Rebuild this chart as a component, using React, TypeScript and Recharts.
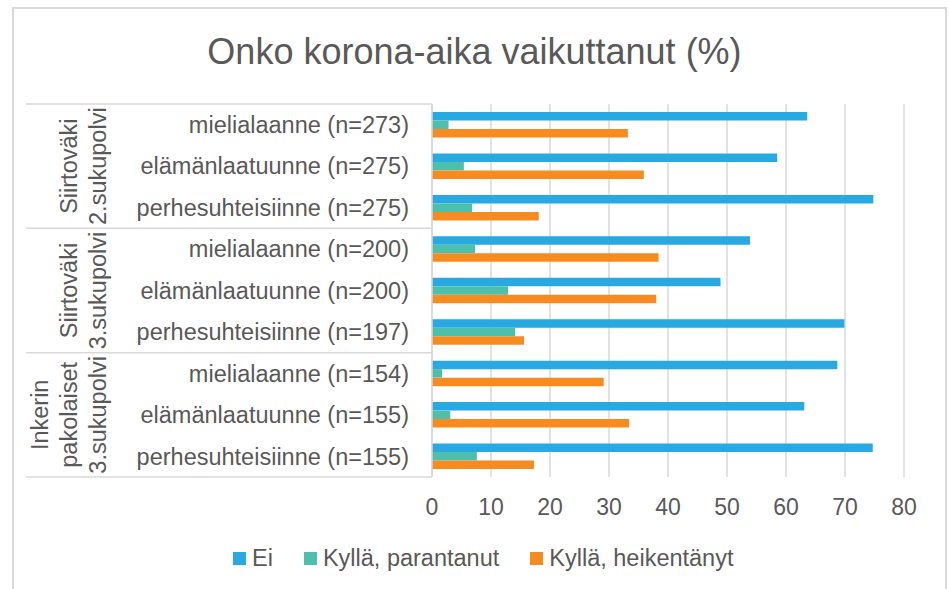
import React from 'react';
import { BarChart, Bar, XAxis, YAxis, CartesianGrid, Legend } from 'recharts';

const categories = [
  'mielialaanne (n=273)',
  'elämänlaatuunne (n=275)',
  'perhesuhteisiinne (n=275)',
  'mielialaanne (n=200)',
  'elämänlaatuunne (n=200)',
  'perhesuhteisiinne (n=197)',
  'mielialaanne (n=154)',
  'elämänlaatuunne (n=155)',
  'perhesuhteisiinne (n=155)',
];

const groups = [
  ['Siirtoväki', '2.sukupolvi'],
  ['Siirtoväki', '3.sukupolvi'],
  ['Inkerin', 'pakolaiset', '3.sukupolvi'],
];

const ei = [63.6, 58.5, 74.8, 53.9, 48.9, 69.9, 68.7, 63.1, 74.7];
const parantanut = [2.8, 5.4, 6.8, 7.3, 12.9, 14.1, 1.7, 3.1, 7.6];
const heikentanyt = [33.2, 35.9, 18.1, 38.4, 38.0, 15.6, 29.1, 33.4, 17.3];

const xTicks = [0, 10, 20, 30, 40, 50, 60, 70, 80];

const series = [
  { key: 'ei', name: 'Ei', color: '#29a9e1' },
  { key: 'parantanut', name: 'Kyllä, parantanut', color: '#4dc0ac' },
  { key: 'heikentanyt', name: 'Kyllä, heikentänyt', color: '#f78b1f' },
];

const data = categories.map((name, i) => ({
  name,
  ei: ei[i],
  parantanut: parantanut[i],
  heikentanyt: heikentanyt[i],
}));

const FONT = '"Liberation Sans", Arial, sans-serif';
const TEXT = '#595959';
const LINE = '#d9d9d9';

const W = 949;
const H = 589;
const PLOT_TOP = 104;
const PLOT_BOTTOM = 477;
const PLOT_LEFT = 432;
const X_AXIS_H = 30;
const BAND = (PLOT_BOTTOM - PLOT_TOP) / categories.length;

const CategoryTick = (props: any) => {
  const { y, payload, index } = props;
  const g = Math.floor(index / 3);
  const pos = index % 3;
  const lines = groups[g];
  return (
    <g>
      <text x={409} y={y} dy="0.35em" textAnchor="end" fill={TEXT} fontSize={23.5} fontFamily={FONT}>
        {payload.value}
      </text>
      {pos === 0 && (
        <line x1={26} x2={PLOT_LEFT} y1={y - BAND / 2} y2={y - BAND / 2} stroke={LINE} strokeWidth={1.5} />
      )}
      {index === categories.length - 1 && (
        <line x1={26} x2={PLOT_LEFT} y1={y + BAND / 2} y2={y + BAND / 2} stroke={LINE} strokeWidth={1.5} />
      )}
      {pos === 1 &&
        lines.map((t, j) => {
          const lx = 98 - (lines.length - 1 - j) * 29;
          return (
            <text
              key={j}
              x={lx}
              y={y}
              dy="0.35em"
              textAnchor="middle"
              transform={`rotate(-90, ${lx}, ${y})`}
              fill={TEXT}
              fontSize={23.5}
              fontFamily={FONT}
            >
              {t}
            </text>
          );
        })}
    </g>
  );
};

const LegendContent = () => (
  <div style={{ display: 'flex', alignItems: 'center', paddingLeft: 233, height: 28, fontFamily: FONT, fontSize: 23.5, color: TEXT }}>
    {series.map((s) => (
      <div key={s.key} style={{ display: 'flex', alignItems: 'center', marginRight: 31 }}>
        <span style={{ width: 13, height: 13, background: s.color, display: 'inline-block', marginRight: 6 }} />
        <span>{s.name}</span>
      </div>
    ))}
  </div>
);

export default function App() {
  return (
    <div style={{ position: 'absolute', left: 0, top: 0, width: W, height: H, overflow: 'hidden', background: '#fff' }}>
      <div
        style={{
          position: 'absolute',
          left: 12,
          top: 7,
          width: 931,
          height: 620,
          borderTop: `2px solid ${LINE}`,
          borderLeft: `2px solid ${LINE}`,
          borderRight: `2px solid ${LINE}`,
        }}
      />
      <div
        style={{
          position: 'absolute',
          left: 0,
          top: 34,
          width: W,
          textAlign: 'center',
          fontFamily: FONT,
          fontSize: 36,
          lineHeight: '36px',
          color: TEXT,
        }}
      >
        Onko korona-aika vaikuttanut (%)
      </div>
      <div style={{ position: 'absolute', left: 0, top: 0 }}>
        <BarChart
          width={W}
          height={H}
          data={data}
          layout="vertical"
          margin={{ top: PLOT_TOP, right: W - 904, bottom: H - PLOT_BOTTOM - X_AXIS_H, left: 0 }}
          barGap={0}
        >
          <CartesianGrid horizontal={false} stroke={LINE} strokeWidth={1.5} />
          <XAxis
            type="number"
            domain={[0, 80]}
            ticks={xTicks}
            height={X_AXIS_H}
            axisLine={false}
            tickLine={false}
            tickMargin={16}
            tick={{ fill: TEXT, fontSize: 23, fontFamily: FONT }}
          />
          <YAxis
            type="category"
            dataKey="name"
            width={PLOT_LEFT}
            axisLine={{ stroke: LINE, strokeWidth: 1.5 }}
            tickLine={false}
            interval={0}
            tick={<CategoryTick />}
          />
          <Legend verticalAlign="middle" wrapperStyle={{ top: 544, left: 0, width: W }} content={<LegendContent />} />
          {series.map((s) => (
            <Bar key={s.key} dataKey={s.key} name={s.name} fill={s.color} barSize={8.5} isAnimationActive={false} />
          ))}
        </BarChart>
      </div>
    </div>
  );
}
